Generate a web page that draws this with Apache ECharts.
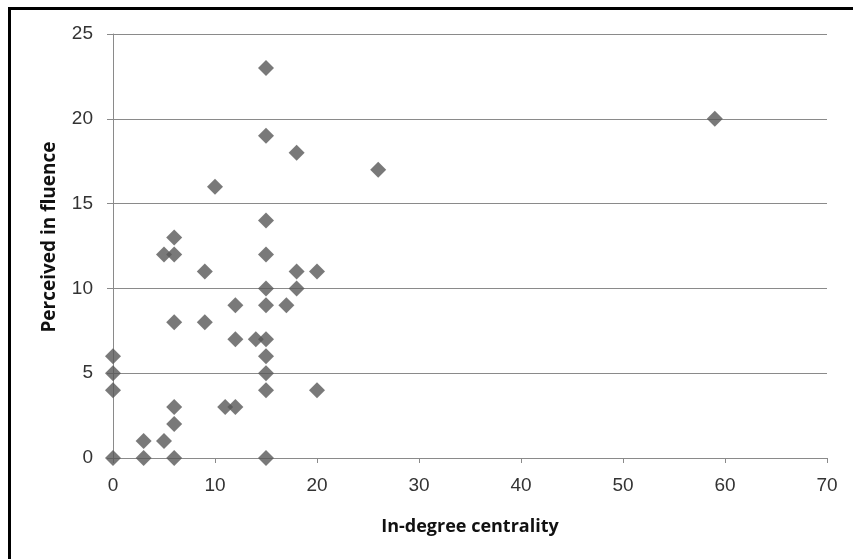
<!DOCTYPE html>
<html>
<head>
<meta charset="utf-8">
<script src="https://cdn.jsdelivr.net/npm/echarts@6/dist/echarts.min.js"></script>
<style>
  html, body { margin: 0; padding: 0; background: #fff; }
  #frame { position: absolute; left: 8px; top: 7px; width: 845px; height: 552px;
           border-left: 3px solid #000; border-top: 3px solid #000; box-sizing: border-box; }
  #chart { position: absolute; left: 0; top: 0; width: 853px; height: 559px; }
</style>
</head>
<body>
<div id="frame"></div>
<div id="chart"></div>
<script>
// In-degree centrality of each actor
const inDegree = [0, 0, 0, 0, 3, 3, 5, 5, 6, 6, 6, 6, 6, 6, 9, 9, 10, 11, 12, 12, 12, 14,
  15, 15, 15, 15, 15, 15, 15, 15, 15, 15, 15, 17, 18, 18, 18, 20, 20, 26, 59];
// Perceived influence of the same actors
const influence = [0, 4, 5, 6, 0, 1, 1, 12, 0, 2, 3, 8, 12, 13, 8, 11, 16, 3, 3, 7, 9, 7,
  0, 4, 5, 6, 7, 9, 10, 12, 14, 19, 23, 9, 10, 11, 18, 4, 11, 17, 20];

const xTicks = [0, 10, 20, 30, 40, 50, 60, 70];
const yTicks = [0, 5, 10, 15, 20, 25];

const points = inDegree.map((x, i) => [x, influence[i]]);

const tickFont = "'Liberation Sans Narrow', 'Liberation Sans', sans-serif";
const axisGray = '#8a8a8a';

const chart = echarts.init(document.getElementById('chart'), null, { renderer: 'canvas' });
chart.setOption({
  animation: false,
  backgroundColor: 'transparent',
  grid: { left: 113, right: 26, top: 34, bottom: 101, containLabel: false },
  xAxis: {
    type: 'value',
    min: xTicks[0], max: xTicks[xTicks.length - 1], interval: 10,
    name: 'In-degree centrality',
    nameLocation: 'middle',
    nameGap: 60,
    nameTextStyle: { fontFamily: "'Open Sans', sans-serif", fontWeight: 'bold', fontSize: 18, color: '#111' },
    axisLine: { show: true, onZero: false, lineStyle: { color: axisGray, width: 1 } },
    axisTick: { show: true, inside: false, length: 5, lineStyle: { color: axisGray } },
    axisLabel: { margin: 18, fontFamily: tickFont, fontSize: 19, color: '#333' },
    splitLine: { show: false }
  },
  yAxis: {
    type: 'value',
    min: yTicks[0], max: yTicks[yTicks.length - 1], interval: 5,
    name: 'Perceived in fluence',
    nameLocation: 'middle',
    nameGap: 54,
    nameRotate: 90,
    nameTextStyle: {
      fontFamily: "'Open Sans', sans-serif", fontWeight: 'bold', fontSize: 19, color: '#111',
      padding: [0, 0, 0, 18]
    },
    axisLine: { show: true, lineStyle: { color: axisGray, width: 1 } },
    axisTick: { show: true, inside: false, length: 6, lineStyle: { color: axisGray } },
    axisLabel: { margin: 20, fontFamily: tickFont, fontSize: 19, color: '#333' },
    splitLine: { show: true, lineStyle: { color: axisGray, width: 1 } }
  },
  series: [{
    type: 'scatter',
    data: points,
    symbol: 'diamond',
    symbolSize: 16,
    itemStyle: { color: '#585858' }
  }]
});
</script>
</body>
</html>
